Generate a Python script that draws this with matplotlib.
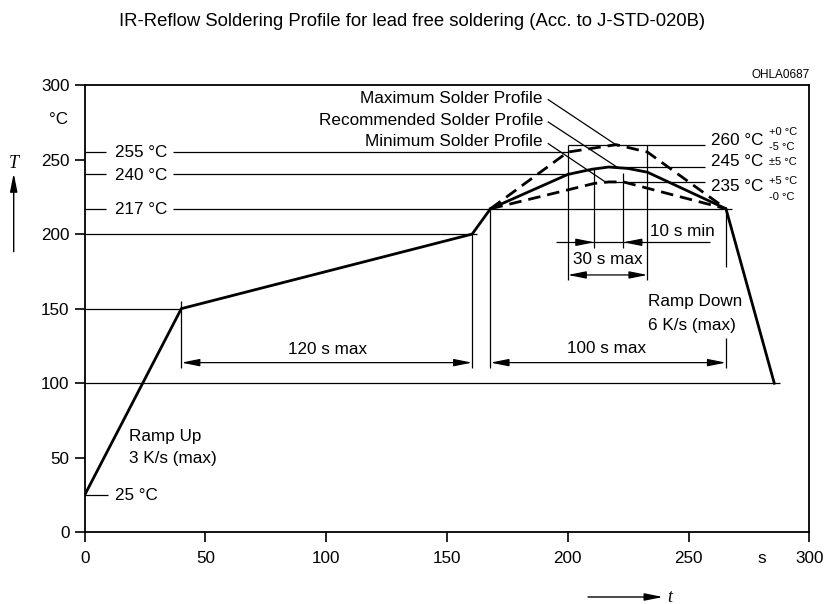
import matplotlib
matplotlib.use('Agg')
import matplotlib.pyplot as plt

# ---------------- data ----------------
ramp_t = [0, 40, 160.4, 168]
ramp_T = [25, 150, 200, 217]

rec_t = [168, 200, 210, 217, 225, 233, 265.5, 285.5]
rec_T = [217, 240, 243.5, 245, 244, 241.5, 217, 100]

max_t = [168, 200, 220, 233, 265.5]
max_T = [217, 255, 260, 255, 217]

min_t = [168, 211, 217, 223, 265.5]
min_T = [217, 234, 235, 235, 217]

x_ticks = [0, 50, 100, 150, 200, 250, 300]
y_ticks = [0, 50, 100, 150, 200, 250, 300]

title = "IR-Reflow Soldering Profile for lead free soldering (Acc. to J-STD-020B)"

# ---------------- figure ----------------
W, H = 825, 604
plt.rcParams['font.family'] = ['Liberation Sans', 'DejaVu Sans']
fig = plt.figure(figsize=(W / 100, H / 100), dpi=100)


def fx(px):
    return px / W


def fy(py):
    return 1 - py / H


ax = fig.add_axes([84.7 / W, 1 - 532.3 / H, (809.3 - 84.7) / W, (532.3 - 85) / H])
ax.set_xlim(0, 300)
ax.set_ylim(0, 300)
for s in ax.spines.values():
    s.set_linewidth(1.3)
ax.set_xticks(x_ticks)
ax.set_yticks(y_ticks)
ax.tick_params(direction='out', length=7, width=1.2, labelsize=12.3)
ax.tick_params(axis='y', pad=4)
ax.tick_params(axis='x', pad=6.5)

FS = 12.3
LW = 0.9
K = 'black'


def hline(y, x0, x1):
    ax.plot([x0, x1], [y, y], color=K, lw=LW, solid_capstyle='butt', zorder=2, clip_on=False)


def vline(x, y0, y1):
    ax.plot([x, x], [y0, y1], color=K, lw=LW, solid_capstyle='butt', zorder=2, clip_on=False)


def seg(x0, y0, x1, y1):
    ax.plot([x0, x1], [y0, y1], color=K, lw=LW, solid_capstyle='butt', zorder=2, clip_on=False)


# horizontal guide lines
hline(25, 0, 9.7)
hline(150, 0, 40)
hline(100, 0, 288)
hline(200, 0, 162.5)
for yy, xend in [(255, 200), (240, 200), (217, 268)]:
    hline(yy, 0, 9)
    hline(yy, 36.7, xend)
hline(260, 200, 257)
hline(245, 217, 257)
hline(235, 216, 257)

# vertical guide lines
vline(40, 110, 155)
vline(160.4, 110, 200)
vline(168, 110, 217)
vline(265.5, 178, 217)
vline(265.5, 110, 130)
vline(200, 169, 260)
vline(233, 169, 260)
vline(211, 191, 243.5)
vline(223, 191, 241)

# leaders
seg(191.7, 290.4, 220.8, 259.0)
seg(191.7, 275.4, 220.8, 244.5)
seg(191.7, 260.9, 216.0, 234.5)

# profiles
ax.plot(ramp_t, ramp_T, color=K, lw=2.0, zorder=4, solid_joinstyle='miter')
ax.plot(rec_t, rec_T, color=K, lw=2.0, zorder=4, solid_joinstyle='miter')
ax.plot(max_t, max_T, color=K, lw=2.0, zorder=4, dashes=(4.5, 2.5))
ax.plot(min_t, min_T, color=K, lw=2.0, zorder=4, dashes=(4.5, 2.5))

# dimension arrows
AS2 = '<|-|>,head_length=1.1,head_width=0.22'
AS1 = '-|>,head_length=1.1,head_width=0.22'


def darrow(x0, x1, y, style=AS2):
    ax.annotate('', xy=(x1, y), xytext=(x0, y),
                arrowprops=dict(arrowstyle=style, color=K, lw=LW, shrinkA=0, shrinkB=0),
                zorder=3)


darrow(40, 160.4, 113.8)
darrow(168, 265.5, 113.8)
darrow(200, 233, 172.6)
hline(194.5, 195, 259)
darrow(203, 211, 194.5, AS1)
darrow(231, 223, 194.5, AS1)


# texts in axes
def txt(x, y, s, ha='left', va='center', size=FS, **kw):
    ax.text(x, y, s, ha=ha, va=va, fontsize=size, clip_on=False, **kw)


txt(12.5, 25, '25 °C')
txt(12.5, 254.6, '255 °C')
txt(12.5, 239.6, '240 °C')
txt(12.5, 216.8, '217 °C')
txt(18.5, 64, 'Ramp Up')
txt(18.5, 49.6, '3 K/s (max)')
txt(100.5, 122.3, '120 s max', ha='center')
txt(216, 123.4, '100 s max', ha='center')
txt(216.6, 183, '30 s max', ha='center')
txt(234, 201.6, '10 s min')
txt(233.2, 154.7, 'Ramp Down')
txt(233.2, 139, '6 K/s (max)')
txt(189.7, 291.1, 'Maximum Solder Profile', ha='right')
txt(189.7, 275.9, 'Recommended Solder Profile', ha='right')
txt(189.7, 262.4, 'Minimum Solder Profile', ha='right')

txt(259.4, 263.1, '260 °C')
txt(259.4, 248.6, '245 °C')
txt(259.4, 231.8, '235 °C')
SM = 8
SX = 283.5
txt(SX, 268.7, '+0 °C', size=SM)
txt(SX, 258.2, '-5 °C', size=SM)
txt(SX, 248.6, '±5 °C', size=SM)
txt(SX, 235.8, '+5 °C', size=SM)
txt(SX, 225.1, '-0 °C', size=SM)

# figure-level texts
fig.text(fx(412), fy(22), title, ha='center', va='center', fontsize=13.3)
fig.text(fx(810), fy(75), 'OHLA0687', ha='right', va='center', fontsize=8.5)
fig.text(fx(68.3), fy(120), '°C', ha='right', va='center', fontsize=FS)
fig.text(fx(761.7), fy(558.3), 's', ha='center', va='center', fontsize=FS)
fig.text(fx(13.7), fy(163), 'T', ha='center', va='center', fontsize=13,
         family='Liberation Serif', style='italic')
fig.text(fx(670), fy(597), 't', ha='center', va='center', fontsize=13,
         family='Liberation Serif', style='italic')
fig.add_artist(matplotlib.patches.FancyArrowPatch(
    (fx(13.7), fy(251.7)), (fx(13.7), fy(173.3)), transform=fig.transFigure,
    arrowstyle='-|>,head_length=1.1,head_width=0.22', color=K, lw=1.0,
    shrinkA=0, shrinkB=0, mutation_scale=10))
fig.add_artist(matplotlib.patches.FancyArrowPatch(
    (fx(588), fy(597)), (fx(663), fy(597)), transform=fig.transFigure,
    arrowstyle='-|>,head_length=1.1,head_width=0.22', color=K, lw=1.0,
    shrinkA=0, shrinkB=0, mutation_scale=10))

fig.savefig('out.png', dpi=100)
